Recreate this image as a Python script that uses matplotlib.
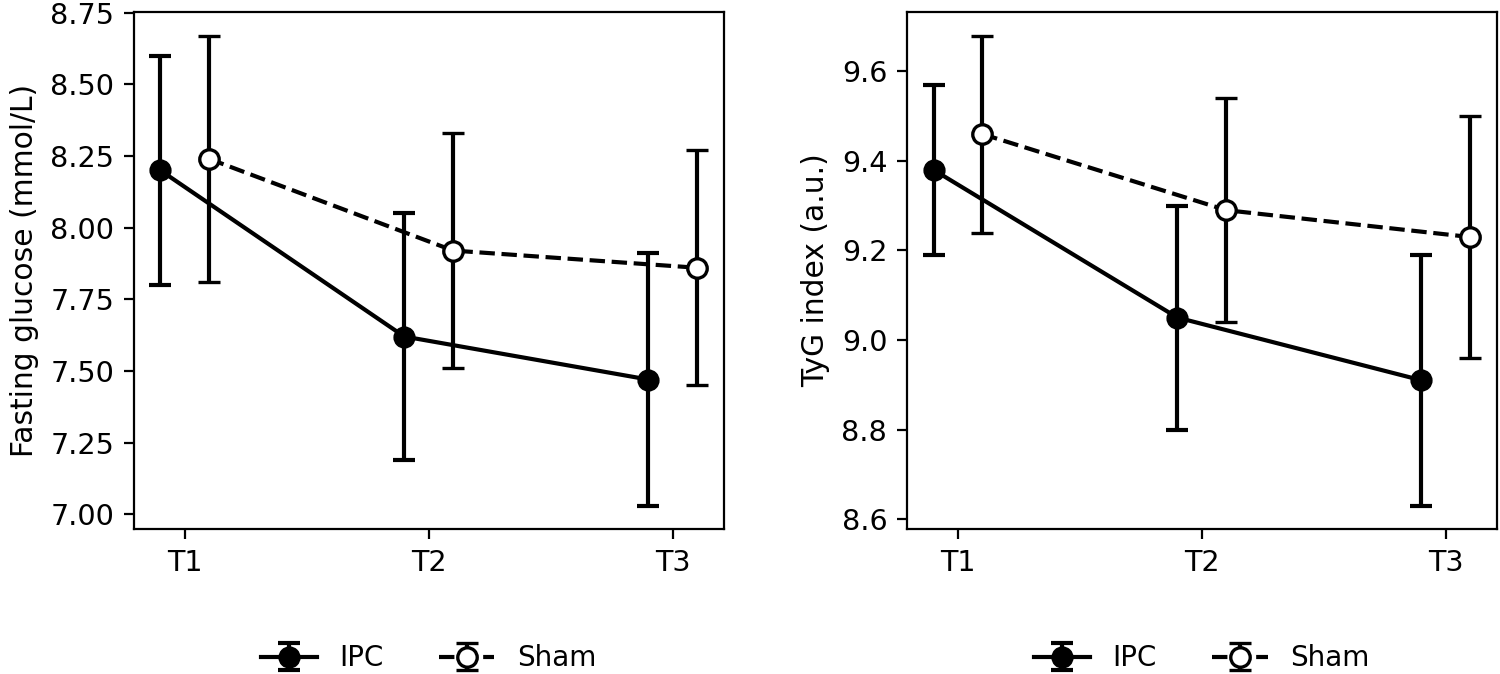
import numpy as np
import matplotlib
matplotlib.use("Agg")
import matplotlib.pyplot as plt

# time points
timepoints = ["T1", "T2", "T3"]

# fasting glucose (mmol/L): mean and error
glucose_ipc = [8.20, 7.62, 7.47]
glucose_ipc_err = [0.40, 0.43, 0.44]
glucose_sham = [8.24, 7.92, 7.86]
glucose_sham_err = [0.43, 0.41, 0.41]

# TyG index (a.u.): mean and error
tyg_ipc = [9.38, 9.05, 8.91]
tyg_ipc_err = [0.19, 0.25, 0.28]
tyg_sham = [9.46, 9.29, 9.23]
tyg_sham_err = [0.22, 0.25, 0.27]


def draw_panel(ax, ipc, ipc_err, sham, sham_err, ylabel):
    """Two groups with error bars, slightly dodged around each time point"""
    x = np.arange(len(timepoints))
    ax.errorbar(x - 0.1, ipc, yerr=ipc_err, color='k', lw=1.5, ls='-',
                marker='o', ms=7, mfc='k', mec='k', capsize=4, elinewidth=1.5,
                capthick=1.5, label="IPC")
    ax.errorbar(x + 0.1, sham, yerr=sham_err, color='k', lw=1.5, ls='--',
                marker='o', ms=7, mfc='white', mec='k', mew=1.2, capsize=4,
                elinewidth=1.5, capthick=1.5, label="Sham")
    ax.set_xticks(x)
    ax.set_xticklabels(timepoints, fontsize=10.3)
    ax.tick_params(axis='y', labelsize=10.3)
    ax.set_ylabel(ylabel, fontsize=10.7)
    ax.legend(loc='center', bbox_to_anchor=(0.5, -0.25), ncol=2, frameon=False,
              columnspacing=2.0, handletextpad=0.8)


fig, (ax1, ax2) = plt.subplots(1, 2, figsize=(7.5, 3.37), dpi=200)
fig.subplots_adjust(left=0.089, right=0.998, top=0.982, bottom=0.215, wspace=0.31)

draw_panel(ax1, glucose_ipc, glucose_ipc_err, glucose_sham, glucose_sham_err,
           "Fasting glucose (mmol/L)")
ax1.set_yticks([7.00, 7.25, 7.50, 7.75, 8.00, 8.25, 8.50, 8.75])
ax1.set_yticklabels(["{:.2f}".format(v) for v in ax1.get_yticks()])

draw_panel(ax2, tyg_ipc, tyg_ipc_err, tyg_sham, tyg_sham_err, "TyG index (a.u.)")

fig.savefig("out.png", dpi=200)
